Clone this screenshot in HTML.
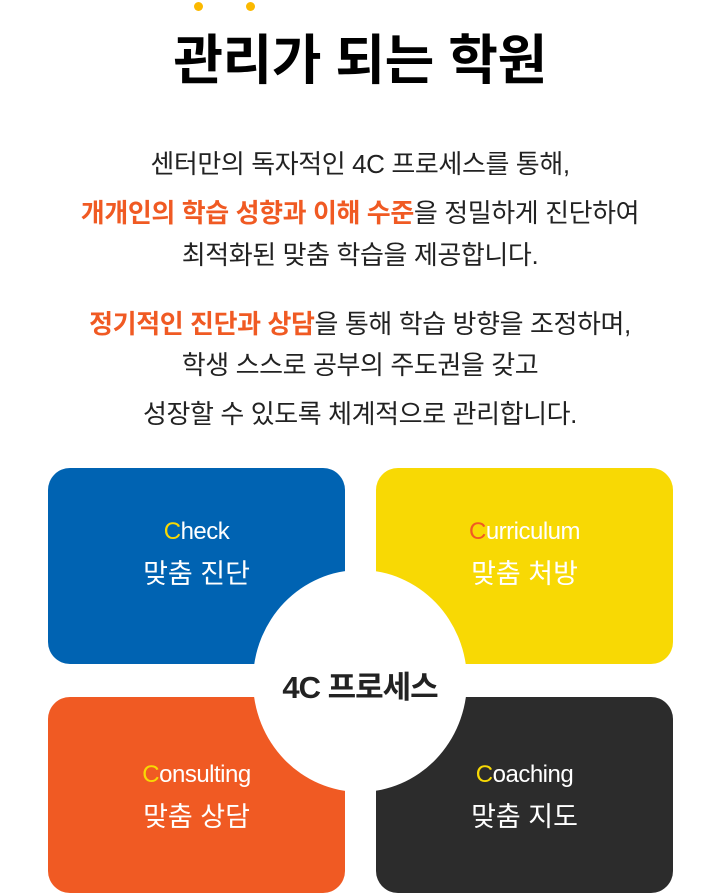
<!DOCTYPE html>
<html><head><meta charset="utf-8"><style>
body{margin:0;width:720px;height:893px;background:#fff;position:relative;overflow:hidden;font-family:"Liberation Sans","Noto Sans CJK KR",sans-serif;}
.t{position:absolute;left:0;width:720px;text-align:center;color:#222;font-size:26px;letter-spacing:-0.4px;}
.o{color:#f05a23;font-weight:bold;}
.box{position:absolute;width:297px;height:196px;border-radius:22px;}
.lab{position:absolute;width:297px;text-align:center;color:#fff;}
.lab .e{font-size:24px;letter-spacing:-0.5px;}
.lab .k{font-size:27px;margin-top:6px;}
</style></head><body>
<div style="position:absolute;left:194px;top:2px;width:9px;height:9px;border-radius:50%;background:#fbb900"></div>
<div style="position:absolute;left:246px;top:2px;width:9px;height:9px;border-radius:50%;background:#fbb900"></div>
<div class="t" style="top:16px;font-size:54px;font-weight:bold;color:#000;letter-spacing:-0.5px">관리가 되는 학원</div>
<div class="t" style="top:144px">센터만의 독자적인 4C 프로세스를 통해,</div>
<div class="t" style="top:193px"><span class="o">개개인의 학습 성향과 이해 수준</span>을 정밀하게 진단하여</div>
<div class="t" style="top:235px">최적화된 맞춤 학습을 제공합니다.</div>
<div class="t" style="top:304px"><span class="o">정기적인 진단과 상담</span>을 통해 학습 방향을 조정하며,</div>
<div class="t" style="top:345px">학생 스스로 공부의 주도권을 갖고</div>
<div class="t" style="top:394px">성장할 수 있도록 체계적으로 관리합니다.</div>

<div class="box" style="left:48px;top:468px;background:#0063b2"></div>
<div class="box" style="left:376px;top:468px;background:#f8d904"></div>
<div class="box" style="left:48px;top:697px;background:#f05a23"></div>
<div class="box" style="left:376px;top:697px;background:#2c2c2c"></div>
<div style="position:absolute;left:253px;top:570px;width:214px;height:222px;border-radius:50%;background:#fff"></div>
<div style="position:absolute;left:253px;top:662px;width:214px;text-align:center;font-size:31px;font-weight:bold;color:#222;letter-spacing:-1px">4C 프로세스</div>

<div class="lab" style="left:48px;top:518px"><div class="e"><span style="color:#f8d904">C</span>heck</div><div class="k">맞춤 진단</div></div>
<div class="lab" style="left:376px;top:518px"><div class="e"><span style="color:#f05a23">C</span>urriculum</div><div class="k">맞춤 처방</div></div>
<div class="lab" style="left:48px;top:761px"><div class="e"><span style="color:#f8d904">C</span>onsulting</div><div class="k">맞춤 상담</div></div>
<div class="lab" style="left:376px;top:761px"><div class="e"><span style="color:#f8d904">C</span>oaching</div><div class="k">맞춤 지도</div></div>
</body></html>
